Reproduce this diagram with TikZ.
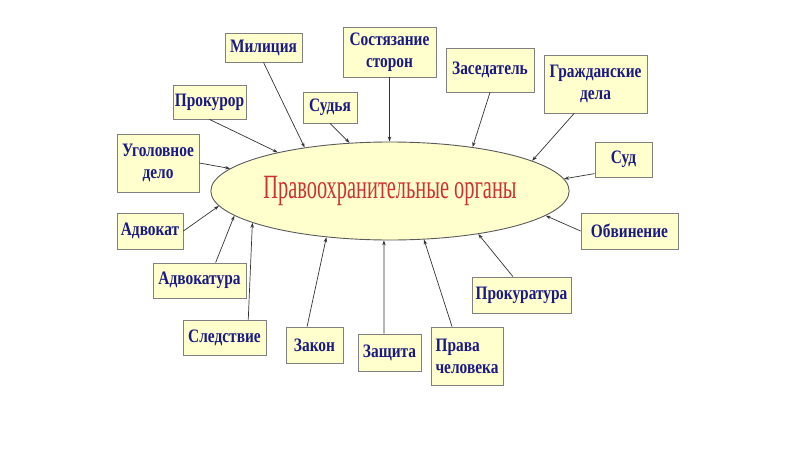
\documentclass[tikz,border=0pt]{standalone}
\usepackage{fontspec}
\setmainfont{Liberation Serif}
\newfontfamily\boxfont[FakeStretch=0.81]{Liberation Serif}
\newfontfamily\ellfont[FakeStretch=0.6]{Liberation Serif}
\usetikzlibrary{arrows.meta,shapes.geometric}
\definecolor{boxfill}{RGB}{255,255,206}
\definecolor{boxedge}{RGB}{128,128,128}
\definecolor{ellgray}{RGB}{90,90,90}
\definecolor{navy}{RGB}{26,26,130}
\definecolor{redtxt}{RGB}{205,50,50}
\begin{document}
\begin{tikzpicture}[x=1pt,y=-1pt,
  lbl/.style={draw=boxedge, fill=boxfill, line width=0.8pt, inner sep=0pt,
    font=\boxfont\bfseries\fontsize{19}{22}\selectfont, text=navy, align=center},
  conn/.style={draw=black!80, line width=0.7pt, -{Stealth[length=5pt,width=3.5pt]}}]
\fill[white] (0,0) rectangle (800,450);
\useasboundingbox (0,0) rectangle (800,450);
\node[ellipse, draw=ellgray, fill=boxfill, line width=0.9pt, minimum width=350pt, minimum height=98pt,
  inner sep=0pt, font=\ellfont\fontsize{34}{34}\selectfont, text=redtxt] (ell) at (390,191) {Правоохранительные органы};

\node[lbl, minimum width=77pt, minimum height=29pt] (mil) at (263.5,47.5) {Милиция};
\node[lbl, minimum width=93pt, minimum height=50pt] (sost) at (389.5,52) {Состязание\\сторон};
\node[lbl, minimum width=88pt, minimum height=44pt] (zased) at (490,70) {Заседатель};
\node[lbl, minimum width=103pt, minimum height=58pt] (grazh) at (595.5,84) {Гражданские\\дела};
\node[lbl, minimum width=57pt, minimum height=35pt] (sud) at (623.5,159.5) {Суд};
\node[lbl, minimum width=97pt, minimum height=36pt] (obv) at (629.5,231) {Обвинение};
\node[lbl, minimum width=99pt, minimum height=36pt] (prokt) at (521.5,295) {Прокуратура};
\node[lbl, minimum width=72pt, minimum height=58pt, align=left] (prava) at (467,356) {Права\\человека};
\node[lbl, minimum width=63pt, minimum height=37pt] (zasch) at (389.5,352.5) {Защита};
\node[lbl, minimum width=57pt, minimum height=36pt] (zakon) at (314.5,345) {Закон};
\node[lbl, minimum width=83pt, minimum height=35pt] (sled) at (224.5,337.5) {Следствие};
\node[lbl, minimum width=93pt, minimum height=35pt] (advt) at (199.5,280.5) {Адвокатура};
\node[lbl, minimum width=66pt, minimum height=36pt] (advk) at (150,231) {Адвокат};
\node[lbl, minimum width=82pt, minimum height=58pt] (ugol) at (158,163) {Уголовное\\дело};
\node[lbl, minimum width=73pt, minimum height=34pt] (prokr) at (209.5,102) {Прокурор};
\node[lbl, minimum width=54pt, minimum height=31pt] (sudya) at (330,107.5) {Судья};

\draw[conn] (mil.south) -- (ell.153.2);
\draw[conn] (sudya.south) -- (ell.130);
\draw[conn] (sost.south) -- (sost.south |- ell.north);
\draw[conn] (zased.south) -- (ell.28.5);
\draw[conn] (grazh.234.7) -- (ell.12);
\draw[conn] (sud.206.1) -- (ell.4.7);
\draw[conn] (obv.west) -- (ell.351.6);
\draw[conn] (prokt.115.3) -- (ell.334.2);
\draw[conn] (prava.117.3) -- (ell.305.4);
\draw[conn] (zasch.106.6) -- (ell.263.2);
\draw[conn] (zakon.112.6) -- (ell.216.1);
\draw[conn] (sled.37.9) -- (ell.193.6);
\draw[conn] (advt.48.5) -- (ell.189);
\draw[conn] (advk.east) -- (ell.185.6);
\draw[conn] (ugol.east) -- (ell.172.4);
\draw[conn] (prokr.south) -- (ell.161.4);
\end{tikzpicture}
\end{document}
